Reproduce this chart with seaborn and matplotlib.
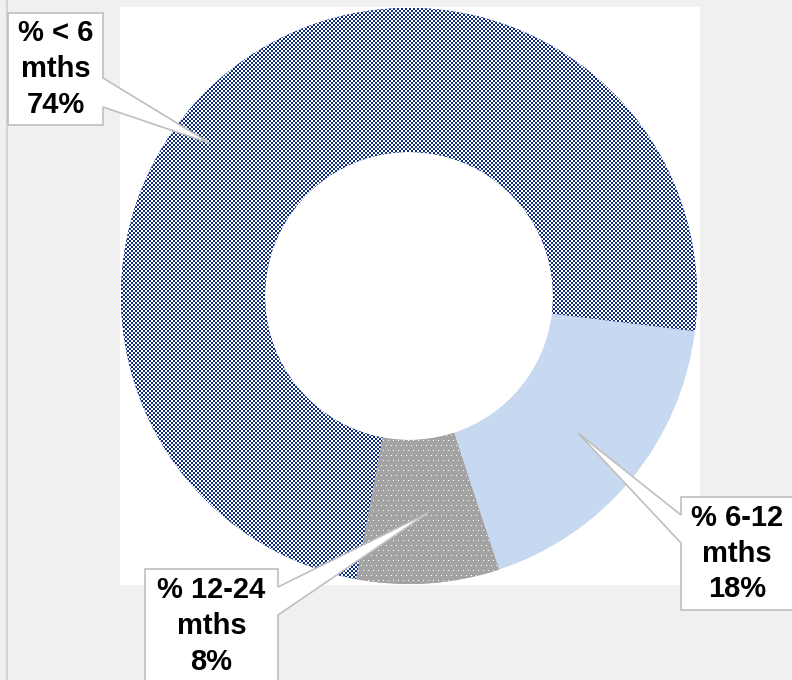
import numpy as np
import seaborn as sns
import matplotlib.pyplot as plt
from matplotlib.patches import Polygon, Rectangle
from matplotlib.lines import Line2D
from matplotlib.transforms import Affine2D

# wedges in drawing order (clockwise, starting just below 3 o'clock)
labels = ["% 6-12\nmths\n18%", "% 12-24\nmths\n8%", "% < 6\nmths\n74%"]
shares = [18, 8, 74]
colors = ["#c6d9f0", "#a3a3a3", "#0e2d7c"]
patterns = [None, "dots", "checker"]

sns.set_theme(style="white")
plt.rcParams["font.family"] = ["Liberation Sans", "DejaVu Sans"]

W, H = 792, 680
fig = plt.figure(figsize=(W / 100, H / 100), dpi=100)
fig.patch.set_facecolor("#f0f0f0")
# pixel coords, origin top-left
px = Affine2D().scale(1 / W, -1 / H).translate(0, 1) + fig.transFigure

fig.patches.append(Rectangle((120, 7), 580, 578, transform=px,
                             facecolor="white", edgecolor="none", zorder=-2))
fig.add_artist(Line2D([6.5, 6.5], [0, H], transform=px, color="#d4d4d4", lw=1.5, zorder=-1))

ax = fig.add_axes([121 / W, 96 / H, 576 / W, 576 / H])
ax.set_zorder(1)
wedges, _ = ax.pie(shares, colors=colors, startangle=-7, counterclock=False,
                   radius=1, wedgeprops=dict(width=0.5, edgecolor="none", linewidth=0))
ax.set_xlim(-1, 1)
ax.set_ylim(-1, 1)
ax.axis("off")

# Excel-like fill patterns, pixel exact via figimage, clipped to each wedge
n = 576
yy, xx = np.mgrid[0:n, 0:n]


def rgb(c):
    return np.array(plt.matplotlib.colors.to_rgb(c))


for wedge, col, pat in zip(wedges, colors, patterns):
    if pat is None:
        continue
    tex = np.ones((n, n, 3))
    if pat == "checker":
        on = (xx // 2 + yy // 2) % 2 == 0
        tex[on] = rgb(col)
    else:
        tex[:] = rgb(col)
        dots = (yy % 5 == 2) & ((xx + (yy // 5 % 2) * 2) % 5 == 2)
        tex[dots] = 1.0
    im = fig.figimage(tex, xo=121, yo=96, origin="upper", zorder=2)
    im.set_clip_path(wedge)

# callout boxes: box (x0, y0, x1, y1) in px, pointer side, pointer base (b0, b1), tip in data
boxes = [(681, 497, 800, 610), (145, 569, 278, 683), (8, 13, 103, 125)]
sides = ["left", "right", "right"]
bases = [(515, 543), (587, 615), (78, 107)]
tips = [(0.587, -0.476), (0.066, -0.753), (-0.69, 0.53)]

to_px = ax.transData + px.inverted()
for lab, (x0, y0, x1, y1), side, (b0, b1), tip in zip(labels, boxes, sides, bases, tips):
    tx, ty = to_px.transform(tip)
    if side == "right":
        pts = [(x0, y0), (x1, y0), (x1, b0), (tx, ty), (x1, b1), (x1, y1), (x0, y1)]
    else:
        pts = [(x0, y0), (x1, y0), (x1, y1), (x0, y1), (x0, b1), (tx, ty), (x0, b0)]
    fig.patches.append(Polygon(pts, closed=True, transform=px, facecolor="white",
                               edgecolor="#bfbfbf", lw=1.2, zorder=5))
    cx = (x0 + x1) / 2 if side == "right" else (x0 + 793) / 2
    cy = (y0 + y1) / 2
    fig.text(cx, cy, lab, transform=px, ha="center", va="center", fontsize=21,
             fontweight="bold", color="black", linespacing=1.35, zorder=6)

fig.savefig("out.png", dpi=100, facecolor=fig.get_facecolor())
